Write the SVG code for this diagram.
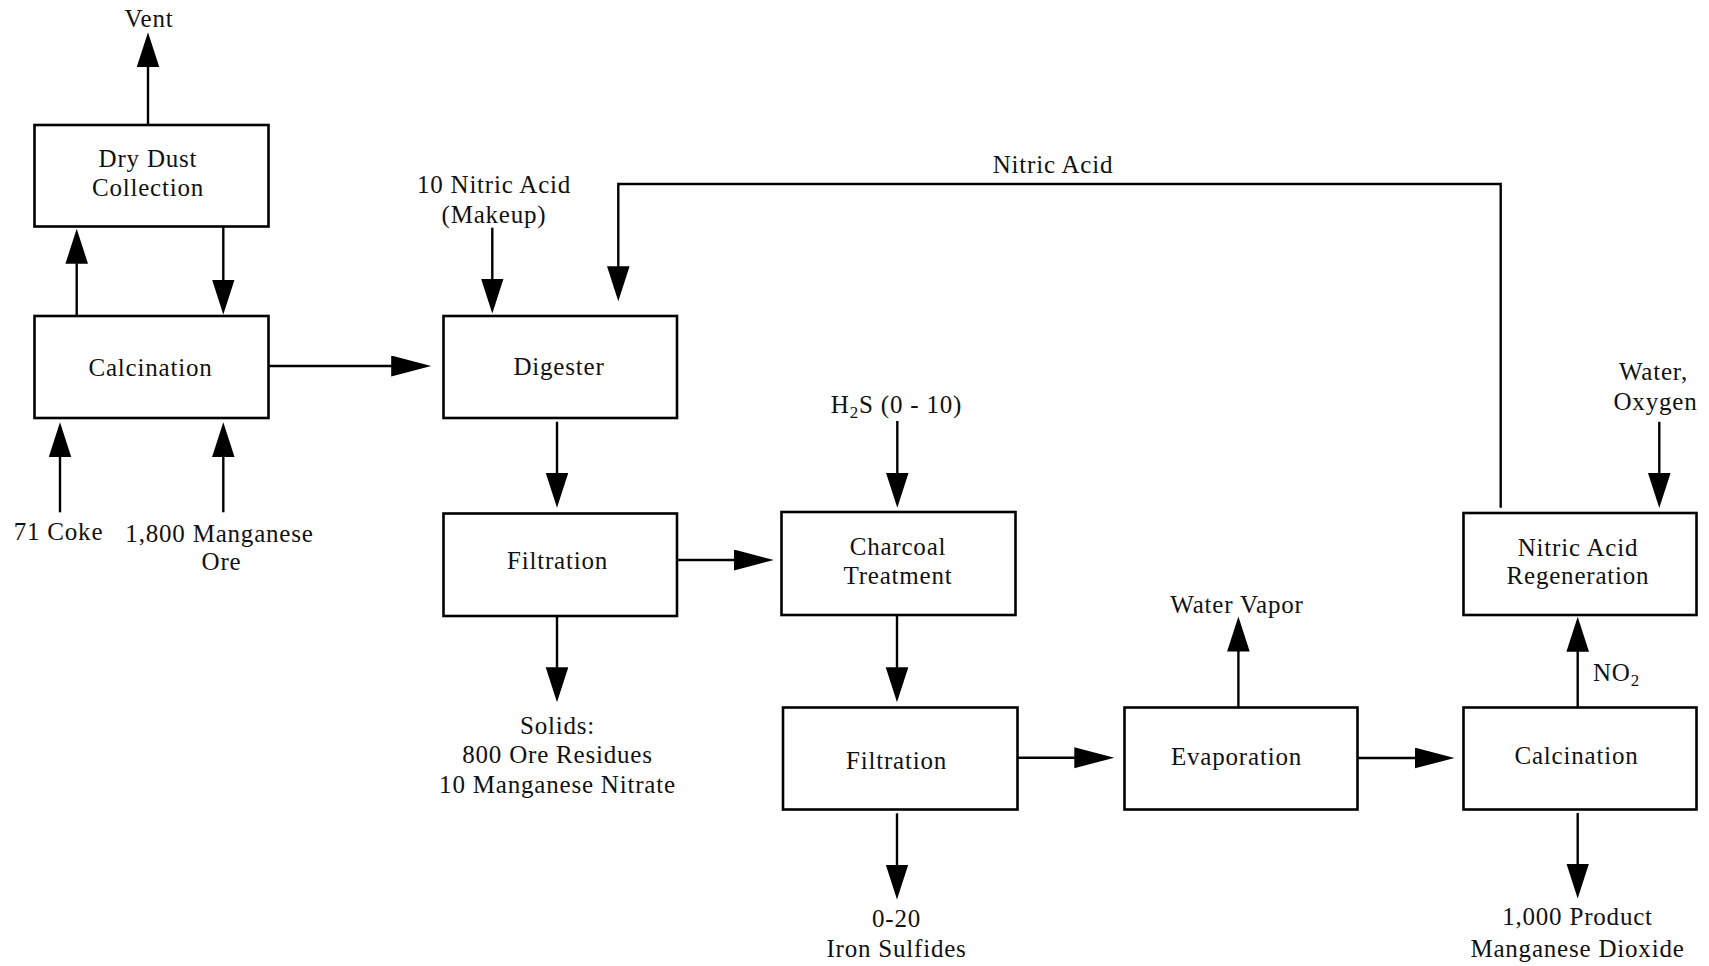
<svg xmlns="http://www.w3.org/2000/svg" width="1709" height="966" viewBox="0 0 1709 966">
  <style>
    .box { fill: #ffffff; stroke: #000000; stroke-width: 2.6; }
    .flow { fill: none; stroke: #000000; stroke-width: 2.4; }
    .v { marker-end: url(#head-v); }
    .h { marker-end: url(#head-h); }
    text { font-family: "Liberation Serif", "Times New Roman", serif; font-size: 25px; letter-spacing: 0.8px; fill: #111111; text-anchor: middle; }
    .sub { font-size: 17px; }
  </style>
  <defs>
    <!-- arrowheads: taller for vertical runs, longer for horizontal runs -->
    <marker id="head-v" markerUnits="userSpaceOnUse" markerWidth="36" markerHeight="24" refX="0.5" refY="11.3" orient="auto">
      <path d="M0,0 L35,11.3 L0,22.6 Z" fill="#000000"/>
    </marker>
    <marker id="head-h" markerUnits="userSpaceOnUse" markerWidth="41" markerHeight="22" refX="0.5" refY="10.5" orient="auto">
      <path d="M0,0 L40,10.5 L0,21 Z" fill="#000000"/>
    </marker>
  </defs>

  <rect width="1709" height="966" fill="#ffffff"/>

  <!-- connectors -->
  <g id="connectors">
    <path class="flow v" d="M148,125 V66.7"/>
    <path class="flow v" d="M76.7,319 V263.3"/>
    <path class="flow v" d="M223.3,226.7 V280"/>
    <path class="flow v" d="M60,512.3 V456.7"/>
    <path class="flow v" d="M223.3,512.3 V456.7"/>
    <path class="flow h" d="M268.3,366 H391.7"/>
    <path class="flow v" d="M492.3,227.7 V279"/>
    <path class="flow v" d="M1500.7,507.7 V184 H618.3 V266.7"/>
    <path class="flow v" d="M557,421.7 V473.3"/>
    <path class="flow h" d="M676.8,560 H734.4"/>
    <path class="flow v" d="M557,616 V667.7"/>
    <path class="flow v" d="M897.3,421 V473.3"/>
    <path class="flow v" d="M897,615 V667.7"/>
    <path class="flow v" d="M897,813.3 V865"/>
    <path class="flow h" d="M1017.4,757.7 H1074.8"/>
    <path class="flow v" d="M1238.4,707.3 V651"/>
    <path class="flow h" d="M1357.4,758 H1415"/>
    <path class="flow v" d="M1577.7,707.3 V651.2"/>
    <path class="flow v" d="M1659.3,421.8 V473.5"/>
    <path class="flow v" d="M1577.7,813 V864"/>
  </g>

  <!-- process units -->
  <g id="dry-dust-collection">
    <rect class="box" x="34.5" y="125" width="234" height="101.5"/>
    <text x="148" y="166.7">Dry Dust</text>
    <text x="148" y="196">Collection</text>
  </g>
  <g id="calcination-ore">
    <rect class="box" x="34.5" y="316" width="234" height="102"/>
    <text x="150.5" y="376">Calcination</text>
  </g>
  <g id="digester">
    <rect class="box" x="443.5" y="316" width="233.5" height="102"/>
    <text x="559" y="375">Digester</text>
  </g>
  <g id="filtration-solids">
    <rect class="box" x="443.5" y="513.5" width="233.5" height="102.5"/>
    <text x="557.5" y="569.3">Filtration</text>
  </g>
  <g id="charcoal-treatment">
    <rect class="box" x="781.5" y="512" width="234" height="103"/>
    <text x="898" y="555">Charcoal</text>
    <text x="898" y="584">Treatment</text>
  </g>
  <g id="filtration-sulfides">
    <rect class="box" x="783" y="707.5" width="234.5" height="102"/>
    <text x="896.5" y="769">Filtration</text>
  </g>
  <g id="evaporation">
    <rect class="box" x="1124.5" y="707.5" width="233" height="102"/>
    <text x="1236.5" y="765">Evaporation</text>
  </g>
  <g id="nitric-acid-regeneration">
    <rect class="box" x="1463.5" y="513" width="233" height="102"/>
    <text x="1578" y="555.6">Nitric Acid</text>
    <text x="1578" y="583.5">Regeneration</text>
  </g>
  <g id="calcination-product">
    <rect class="box" x="1463.5" y="707.5" width="233" height="102"/>
    <text x="1576.5" y="764">Calcination</text>
  </g>

  <!-- stream labels -->
  <g id="stream-labels">
    <text x="149" y="26.7">Vent</text>
    <text x="58.5" y="540">71 Coke</text>
    <text x="219.5" y="541.7">1,800 Manganese</text>
    <text x="221.5" y="570">Ore</text>
    <text x="494" y="193.3">10 Nitric Acid</text>
    <text x="494" y="222.7">(Makeup)</text>
    <text x="1053" y="173.3">Nitric Acid</text>
    <text x="896.5" y="413.3">H<tspan class="sub" dy="5">2</tspan><tspan dy="-5">S (0 - 10)</tspan></text>
    <text x="557.5" y="734">Solids:</text>
    <text x="557.5" y="763.3">800 Ore Residues</text>
    <text x="557.5" y="793.3">10 Manganese Nitrate</text>
    <text x="896.5" y="926.7">0-20</text>
    <text x="896.5" y="956.7">Iron Sulfides</text>
    <text x="1237" y="613.3">Water Vapor</text>
    <text x="1653.5" y="379.9">Water,</text>
    <text x="1655.5" y="409.9">Oxygen</text>
    <text x="1593" y="681" style="text-anchor:start">NO<tspan class="sub" dy="5">2</tspan></text>
    <text x="1577.5" y="924.8">1,000 Product</text>
    <text x="1577.5" y="956.8">Manganese Dioxide</text>
  </g>
</svg>
